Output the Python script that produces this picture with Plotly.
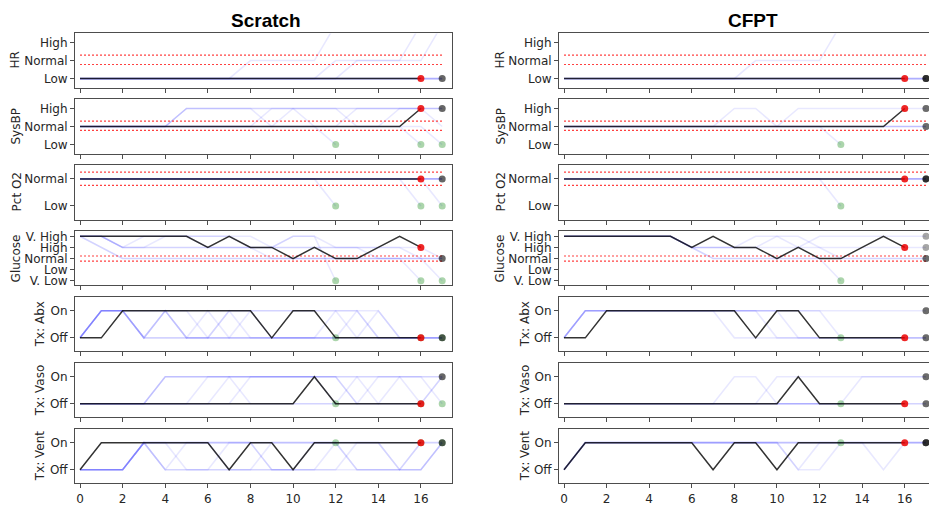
import plotly.graph_objects as go

# ---------------- data ----------------
var_names = ["HR", "SysBP", "Pct O2", "Glucose", "Tx: Abx", "Tx: Vaso", "Tx: Vent"]
levels_3 = ["Low", "Normal", "High"]
levels_o2 = ["Low", "Normal"]
levels_glucose = ["V. Low", "Low", "Normal", "High", "V. High"]
levels_tx = ["Off", "On"]
x_ticks = [0, 2, 4, 6, 8, 10, 12, 14, 16]

# red dotted "normal" band limits
thr_hr = [0.78, 1.3]
thr_sysbp = [0.78, 1.3]
thr_o2 = [0.76, 1.25]
thr_glucose = [1.77, 2.23]

# observed trajectory (t = 0..16)
obs_hr = [0, 0, 0, 0, 0, 0, 0, 0, 0, 0, 0, 0, 0, 0, 0, 0, 0]
obs_sysbp = [1, 1, 1, 1, 1, 1, 1, 1, 1, 1, 1, 1, 1, 1, 1, 1, 2]
obs_o2 = [1, 1, 1, 1, 1, 1, 1, 1, 1, 1, 1, 1, 1, 1, 1, 1, 1]
obs_glucose = [4, 4, 4, 4, 4, 4, 3, 4, 3, 3, 2, 3, 2, 2, 3, 4, 3]
obs_abx = [0, 0, 1, 1, 1, 1, 1, 1, 1, 0, 1, 1, 0, 0, 0, 0, 0]
obs_vaso = [0, 0, 0, 0, 0, 0, 0, 0, 0, 0, 0, 1, 0, 0, 0, 0, 0]
obs_vent = [0, 1, 1, 1, 1, 1, 1, 0, 1, 1, 0, 1, 1, 1, 1, 1, 1]

# Scratch: sampled trajectories (value 3 in HR is off-scale)
scratch_terminated = [True, True, True, False, False, False, False]
scratch_hr = [
    [0, 0, 0, 0, 0, 0, 0, 0, 1, 1, 1, 1, 3],
    [0, 0, 0, 0, 0, 0, 0, 0, 0, 0, 0, 0, 1, 1, 1, 1, 3],
    [0, 0, 0, 0, 0, 0, 0, 0, 0, 0, 0, 0, 0, 1, 1, 1, 1, 3],
    [0, 0, 0, 0, 0, 0, 0, 0, 0, 0, 0, 0, 0, 0, 0, 0, 0, 0],
    [0, 0, 0, 0, 0, 0, 0, 0, 0, 0, 0, 0, 0, 0, 0, 0, 0, 0],
    [0, 0, 0, 0, 0, 0, 0, 0, 0, 0, 0, 0, 0, 0, 0, 0, 0, 0],
    [0, 0, 0, 0, 0, 0, 0, 0, 0, 0, 0, 0, 0, 0, 0, 0, 0, 0],
]
scratch_sysbp = [
    [1, 1, 1, 1, 1, 2, 2, 2, 2, 1, 1, 1, 0],
    [1, 1, 1, 1, 1, 1, 1, 1, 1, 2, 2, 1, 1, 1, 1, 1, 0],
    [1, 1, 1, 1, 1, 1, 1, 1, 1, 1, 1, 1, 1, 1, 1, 1, 1, 0],
    [1, 1, 1, 1, 1, 2, 2, 2, 2, 2, 2, 2, 2, 2, 2, 2, 2, 2],
    [1, 1, 1, 1, 1, 1, 1, 1, 1, 1, 1, 1, 1, 2, 2, 2, 2, 2],
    [1, 1, 1, 1, 1, 2, 2, 2, 2, 2, 2, 2, 2, 1, 1, 2, 2, 2],
    [1, 1, 1, 1, 1, 1, 1, 1, 1, 1, 2, 2, 2, 2, 2, 2, 2, 1],
]
scratch_o2 = [
    [1, 1, 1, 1, 1, 1, 1, 1, 1, 1, 1, 1, 0],
    [1, 1, 1, 1, 1, 1, 1, 1, 1, 1, 1, 1, 1, 1, 1, 1, 0],
    [1, 1, 1, 1, 1, 1, 1, 1, 1, 1, 1, 1, 1, 1, 1, 1, 1, 0],
    [1, 1, 1, 1, 1, 1, 1, 1, 1, 1, 1, 1, 1, 1, 1, 1, 1, 1],
    [1, 1, 1, 1, 1, 1, 1, 1, 1, 1, 1, 1, 1, 1, 1, 1, 1, 1],
    [1, 1, 1, 1, 1, 1, 1, 1, 1, 1, 1, 1, 1, 1, 1, 1, 1, 1],
    [1, 1, 1, 1, 1, 1, 1, 1, 1, 1, 1, 1, 1, 1, 1, 1, 1, 1],
]
scratch_glucose = [
    [4, 4, 3, 4, 4, 4, 3, 3, 3, 3, 4, 4, 0],
    [4, 3, 2, 2, 2, 2, 2, 2, 2, 2, 2, 2, 2, 2, 2, 2, 0],
    [4, 4, 3, 3, 3, 3, 3, 3, 3, 2, 2, 2, 2, 2, 2, 2, 2, 0],
    [4, 4, 3, 3, 4, 4, 4, 4, 3, 3, 3, 3, 3, 3, 3, 3, 3, 2],
    [4, 3, 2, 2, 2, 2, 2, 2, 2, 2, 2, 2, 2, 2, 2, 2, 2, 2],
    [4, 4, 4, 4, 4, 4, 4, 4, 4, 3, 3, 3, 3, 3, 2, 2, 2, 2],
    [4, 4, 3, 3, 3, 3, 3, 3, 3, 3, 4, 4, 3, 3, 3, 3, 2, 2],
]
scratch_abx = [
    [0, 1, 1, 0, 1, 0, 0, 0, 0, 0, 0, 0, 0],
    [0, 1, 1, 0, 1, 0, 1, 0, 1, 0, 0, 0, 0, 1, 0, 0, 0],
    [0, 1, 1, 0, 0, 0, 0, 1, 0, 0, 0, 0, 0, 0, 1, 0, 0, 0],
    [0, 1, 1, 1, 1, 1, 1, 1, 1, 1, 1, 1, 1, 0, 0, 0, 0, 0],
    [0, 1, 1, 0, 1, 0, 0, 0, 0, 0, 0, 0, 0, 0, 0, 0, 0, 0],
    [0, 1, 1, 1, 1, 1, 0, 1, 1, 1, 1, 1, 1, 1, 1, 0, 0, 0],
    [0, 1, 1, 0, 0, 0, 0, 0, 0, 0, 0, 0, 1, 1, 0, 0, 0, 0],
]
scratch_vaso = [
    [0, 0, 0, 0, 1, 1, 1, 1, 1, 1, 1, 1, 0],
    [0, 0, 0, 0, 0, 0, 0, 1, 1, 1, 1, 1, 1, 0, 1, 1, 0],
    [0, 0, 0, 0, 1, 1, 1, 1, 1, 1, 1, 1, 1, 1, 0, 1, 1, 0],
    [0, 0, 0, 0, 1, 1, 1, 1, 1, 1, 1, 1, 1, 1, 1, 1, 1, 1],
    [0, 0, 0, 0, 0, 0, 1, 1, 0, 0, 0, 0, 0, 1, 1, 1, 1, 1],
    [0, 0, 0, 0, 0, 0, 0, 0, 1, 1, 1, 1, 1, 0, 0, 0, 0, 1],
    [0, 0, 0, 0, 0, 0, 0, 0, 0, 0, 0, 0, 0, 0, 0, 0, 0, 1],
]
scratch_vent = [
    [0, 0, 0, 1, 1, 1, 1, 1, 1, 1, 1, 1, 1],
    [0, 0, 0, 1, 0, 0, 0, 1, 1, 0, 0, 0, 0, 1, 1, 0, 1],
    [0, 0, 0, 1, 0, 1, 1, 0, 0, 0, 0, 1, 1, 0, 0, 0, 1, 1],
    [0, 0, 0, 1, 1, 1, 1, 1, 1, 1, 1, 1, 1, 1, 1, 1, 1, 1],
    [0, 0, 0, 1, 0, 0, 0, 0, 0, 0, 0, 0, 0, 0, 0, 0, 0, 1],
    [0, 0, 0, 1, 1, 0, 0, 0, 0, 1, 1, 1, 1, 1, 1, 0, 0, 1],
    [0, 0, 0, 1, 1, 1, 1, 1, 1, 0, 0, 0, 1, 0, 0, 0, 0, 1],
]
# Scratch: next observed state at t = 17
scratch_next_hr = [0]
scratch_next_sysbp = [2]
scratch_next_o2 = [1]
scratch_next_glucose = [2]
scratch_next_abx = [0]
scratch_next_vaso = [1]
scratch_next_vent = [1]

# CFPT: sampled trajectories
cfpt_terminated = [True, False, False, False, False]
cfpt_hr = [
    [0, 0, 0, 0, 0, 0, 0, 0, 0, 1, 1, 1, 1, 3],
    [0, 0, 0, 0, 0, 0, 0, 0, 0, 0, 0, 0, 0, 0, 0, 0, 0, 0],
    [0, 0, 0, 0, 0, 0, 0, 0, 0, 0, 0, 0, 0, 0, 0, 0, 0, 0],
    [0, 0, 0, 0, 0, 0, 0, 0, 0, 0, 0, 0, 0, 0, 0, 0, 0, 0],
    [0, 0, 0, 0, 0, 0, 0, 0, 0, 0, 0, 0, 0, 0, 0, 0, 0, 0],
]
cfpt_sysbp = [
    [1, 1, 1, 1, 1, 1, 1, 1, 1, 1, 1, 1, 1, 0],
    [1, 1, 1, 1, 1, 1, 1, 1, 2, 2, 1, 1, 1, 1, 1, 1, 1, 1],
    [1, 1, 1, 1, 1, 1, 1, 1, 1, 1, 1, 2, 2, 2, 2, 2, 2, 2],
    [1, 1, 1, 1, 1, 1, 1, 1, 1, 1, 1, 1, 1, 1, 1, 1, 1, 1],
    [1, 1, 1, 1, 1, 1, 1, 1, 1, 1, 1, 1, 1, 1, 1, 1, 1, 1],
]
cfpt_o2 = [
    [1, 1, 1, 1, 1, 1, 1, 1, 1, 1, 1, 1, 1, 0],
    [1, 1, 1, 1, 1, 1, 1, 1, 1, 1, 1, 1, 1, 1, 1, 1, 1, 1],
    [1, 1, 1, 1, 1, 1, 1, 1, 1, 1, 1, 1, 1, 1, 1, 1, 1, 1],
    [1, 1, 1, 1, 1, 1, 1, 1, 1, 1, 1, 1, 1, 1, 1, 1, 1, 1],
    [1, 1, 1, 1, 1, 1, 1, 1, 1, 1, 1, 1, 1, 1, 1, 1, 1, 1],
]
cfpt_glucose = [
    [4, 4, 4, 4, 4, 4, 3, 2, 2, 2, 2, 2, 2, 0],
    [4, 4, 4, 4, 4, 4, 3, 3, 3, 4, 4, 3, 3, 3, 3, 3, 3, 3],
    [4, 4, 4, 4, 4, 4, 3, 3, 3, 3, 3, 3, 4, 4, 4, 4, 4, 4],
    [4, 4, 4, 4, 4, 4, 3, 2, 2, 2, 2, 2, 2, 2, 2, 2, 2, 2],
    [4, 4, 4, 4, 4, 4, 3, 3, 3, 3, 4, 4, 3, 2, 2, 2, 2, 2],
]
cfpt_abx = [
    [0, 1, 1, 1, 1, 1, 1, 1, 1, 1, 1, 1, 1, 0],
    [0, 1, 1, 1, 1, 1, 1, 1, 0, 0, 0, 0, 0, 0, 0, 0, 0, 0],
    [0, 1, 1, 1, 1, 1, 1, 1, 1, 1, 1, 1, 1, 1, 1, 1, 1, 1],
    [0, 1, 1, 1, 1, 1, 1, 1, 1, 1, 0, 0, 0, 0, 0, 0, 0, 0],
    [0, 1, 1, 1, 1, 1, 1, 1, 1, 1, 1, 0, 0, 0, 0, 0, 0, 0],
]
cfpt_vaso = [
    [0, 0, 0, 0, 0, 0, 0, 0, 0, 0, 0, 0, 0, 0],
    [0, 0, 0, 0, 0, 0, 0, 0, 1, 1, 0, 0, 0, 0, 0, 0, 0, 0],
    [0, 0, 0, 0, 0, 0, 0, 0, 0, 0, 1, 1, 1, 1, 1, 1, 1, 1],
    [0, 0, 0, 0, 0, 0, 0, 0, 0, 0, 0, 0, 0, 0, 1, 1, 1, 1],
    [0, 0, 0, 0, 0, 0, 0, 0, 0, 0, 0, 0, 0, 0, 0, 0, 0, 0],
]
cfpt_vent = [
    [0, 1, 1, 1, 1, 1, 1, 1, 1, 1, 1, 1, 1, 1],
    [0, 1, 1, 1, 1, 1, 1, 1, 1, 1, 1, 0, 0, 1, 1, 1, 1, 1],
    [0, 1, 1, 1, 1, 1, 1, 1, 1, 1, 1, 0, 1, 1, 1, 1, 1, 1],
    [0, 1, 1, 1, 1, 1, 1, 1, 1, 1, 1, 1, 1, 1, 1, 0, 1, 1],
    [0, 1, 1, 1, 1, 1, 1, 1, 1, 1, 1, 1, 1, 1, 1, 1, 1, 1],
]
cfpt_next_hr = [0, 0, 0, 0]
cfpt_next_sysbp = [2, 2, 1, 1]
cfpt_next_o2 = [1, 1, 1, 1]
cfpt_next_glucose = [4, 3, 2, 2]
cfpt_next_abx = [1, 1, 0, 0]
cfpt_next_vaso = [1, 1, 0, 0]
cfpt_next_vent = [1, 1, 1, 1]

# ---------------- assembly ----------------
observed = [obs_hr, obs_sysbp, obs_o2, obs_glucose, obs_abx, obs_vaso, obs_vent]
levels = [levels_3, levels_3, levels_o2, levels_glucose, levels_tx, levels_tx, levels_tx]
thresholds = [thr_hr, thr_sysbp, thr_o2, thr_glucose, None, None, None]
columns = [
    dict(title="Scratch", term=scratch_terminated,
         traj=[scratch_hr, scratch_sysbp, scratch_o2, scratch_glucose, scratch_abx, scratch_vaso, scratch_vent],
         nxt=[scratch_next_hr, scratch_next_sysbp, scratch_next_o2, scratch_next_glucose,
              scratch_next_abx, scratch_next_vaso, scratch_next_vent],
         next_color="rgba(0,0,0,0.6)"),
    dict(title="CFPT", term=cfpt_terminated,
         traj=[cfpt_hr, cfpt_sysbp, cfpt_o2, cfpt_glucose, cfpt_abx, cfpt_vaso, cfpt_vent],
         nxt=[cfpt_next_hr, cfpt_next_sysbp, cfpt_next_o2, cfpt_next_glucose,
              cfpt_next_abx, cfpt_next_vaso, cfpt_next_vent],
         next_color="rgba(0,0,0,0.35)"),
]

# ---------------- layout geometry (pixels) ----------------
W, H = 929, 506
rows_px = [(32, 87), (99, 154), (166, 221), (233, 288), (300, 355), (367, 422), (434, 489)]
cols_px = [(75, 452), (559, 929)]
x_ranges = [[-0.235, 17.46], [-0.235, 17.14]]
y_ranges = [[-0.5, 2.5], [-0.5, 2.5], [-0.5, 1.5], [-0.42, 4.45], [-0.5, 1.5], [-0.5, 1.5], [-0.5, 1.5]]
title_x_px = [266, 753]
ylabel_x_px = [[15, 15, 17, 16, 40, 40, 40], [500, 500, 501, 500, 525, 525, 525]]
t_end = 17

FAINT = "rgba(0,0,255,0.09)"
BLACK = "rgba(0,0,0,0.8)"
RED = "rgba(235,0,0,0.85)"
GREEN = "rgba(0,128,0,0.33)"
SPINE = "#4d4d4d"
TXT = "#262626"
FONT = "DejaVu Sans"

fig = go.Figure()
layout = dict(width=W, height=H, autosize=False, margin=dict(l=0, r=0, t=0, b=0),
              paper_bgcolor="white", plot_bgcolor="white", showlegend=False)
annotations = []

for c, col in enumerate(columns):
    for r in range(7):
        k = r * 2 + c + 1
        xa = "x" if k == 1 else f"x{k}"
        ya = "y" if k == 1 else f"y{k}"
        common = dict(xaxis=xa, yaxis=ya, hoverinfo="skip", showlegend=False)
        trajs = col["traj"][r]
        # sampled trajectories
        for tr in trajs:
            fig.add_trace(go.Scatter(x=list(range(len(tr))), y=tr, mode="lines",
                                     line=dict(color=FAINT, width=1.6), **common))
        # normal band thresholds
        if thresholds[r] is not None:
            for th in thresholds[r]:
                fig.add_trace(go.Scatter(x=[0, t_end], y=[th, th], mode="lines",
                                         line=dict(color="rgba(255,0,0,0.75)", width=1.2, dash="2px,2px"),
                                         **common))
        # terminated trajectories end points
        gx = [len(tr) - 1 for tr, tm in zip(trajs, col["term"]) if tm]
        gy = [tr[-1] for tr, tm in zip(trajs, col["term"]) if tm]
        if gx:
            fig.add_trace(go.Scatter(x=gx, y=gy, mode="markers",
                                     marker=dict(color=GREEN, size=7, line=dict(width=0)), **common))
        # observed trajectory
        obs = observed[r]
        fig.add_trace(go.Scatter(x=list(range(len(obs))), y=obs, mode="lines",
                                 line=dict(color=BLACK, width=1.5), **common))
        fig.add_trace(go.Scatter(x=[len(obs) - 1], y=[obs[-1]], mode="markers",
                                 marker=dict(color=RED, size=7, line=dict(width=0)), **common))
        nx = col["nxt"][r]
        fig.add_trace(go.Scatter(x=[t_end] * len(nx), y=nx, mode="markers",
                                 marker=dict(color=col["next_color"], size=7, line=dict(width=0)), **common))

        top, bot = rows_px[r]
        left, right = cols_px[c]
        xname = "xaxis" if k == 1 else f"xaxis{k}"
        yname = "yaxis" if k == 1 else f"yaxis{k}"
        layout[xname] = dict(domain=[left / W, right / W], range=x_ranges[c], anchor=ya,
                             tickvals=x_ticks, ticks="outside", ticklen=4, tickcolor=SPINE,
                             showticklabels=(r == 6), tickfont=dict(family=FONT, size=12, color=TXT),
                             showline=True, mirror=True, linecolor=SPINE, linewidth=1,
                             showgrid=False, zeroline=False, fixedrange=True)
        lv = levels[r]
        layout[yname] = dict(domain=[1 - bot / H, 1 - top / H], range=y_ranges[r], anchor=xa,
                             tickvals=list(range(len(lv))), ticktext=lv, ticks="outside", ticklen=4,
                             tickcolor=SPINE, tickfont=dict(family=FONT, size=12, color=TXT),
                             showline=True, mirror=(c == 0), linecolor=SPINE, linewidth=1,
                             showgrid=False, zeroline=False, fixedrange=True)
        annotations.append(dict(text=var_names[r], xref="paper", yref="paper",
                                x=ylabel_x_px[c][r] / W, y=1 - (top + bot) / 2 / H,
                                xanchor="center", yanchor="middle", textangle=-90, showarrow=False,
                                font=dict(family=FONT, size=12, color=TXT)))
    annotations.append(dict(text="<b>" + col["title"] + "</b>", xref="paper", yref="paper",
                            x=title_x_px[c] / W, y=1 - 19 / H, xanchor="center", yanchor="middle",
                            showarrow=False, font=dict(family="Liberation Sans", size=19, color="black")))

layout["annotations"] = annotations
fig.update_layout(**layout)
fig.write_html("out.html", config={"displayModeBar": False},
               post_script="document.body.style.margin='0px';document.body.style.overflow='hidden';")
